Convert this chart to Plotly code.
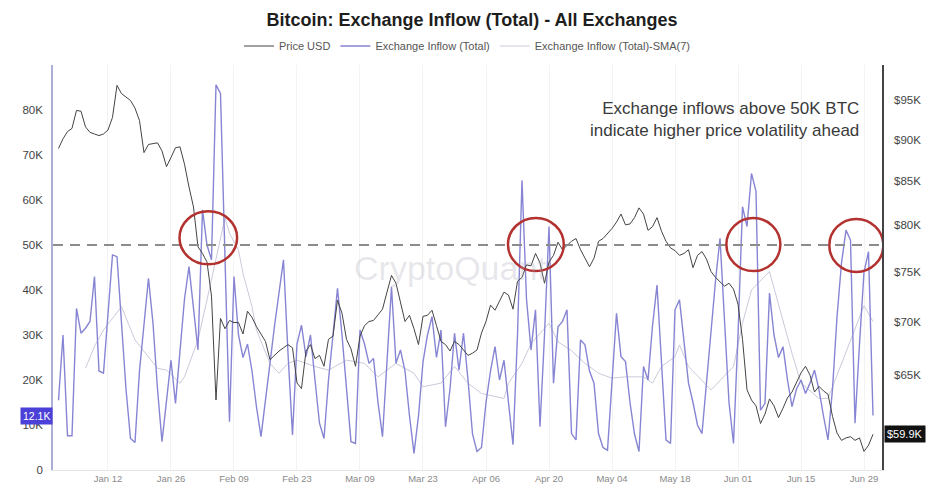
import math
import pandas as pd
import plotly.graph_objects as go

# ---------------- data ----------------
start_date = "2025-01-01"
n_days = 182

inflow_k = [
    15.5, 30.0, 7.6, 7.6, 35.9, 30.4, 31.5, 33.0, 43.0, 22.0,
    21.5, 35.0, 47.8, 47.4, 32.0, 18.0, 7.0, 6.1, 22.0, 33.0,
    42.6, 32.6, 18.0, 6.3, 15.0, 24.4, 14.8, 26.7, 38.0, 45.2,
    36.0, 26.7, 57.8, 50.0, 46.7, 85.6, 83.7, 47.0, 10.7, 43.0,
    30.0, 25.0, 28.0, 22.0, 14.0, 7.4, 15.0, 23.7, 32.0, 40.0,
    46.7, 26.0, 7.8, 28.0, 32.2, 25.2, 30.0, 20.0, 10.4, 7.0,
    20.0, 30.0, 40.4, 30.0, 18.0, 6.3, 5.9, 31.1, 28.0, 23.7,
    24.8, 15.0, 7.4, 25.0, 40.7, 23.7, 26.7, 22.0, 12.0, 3.7,
    12.0, 24.0, 30.0, 34.1, 25.0, 31.1, 9.6, 18.0, 30.4, 22.2,
    30.4, 20.0, 8.0, 4.1, 5.0, 15.0, 22.0, 27.4, 20.0, 24.4,
    15.0, 5.6, 30.0, 64.4, 38.0, 26.7, 35.6, 9.6, 30.0, 54.1,
    19.3, 31.8, 33.0, 35.6, 8.1, 6.7, 28.9, 27.8, 22.0, 19.3,
    8.1, 5.0, 4.4, 20.0, 34.8, 25.2, 24.1, 15.0, 8.0, 4.1,
    23.0, 20.0, 32.0, 41.1, 25.0, 6.7, 5.9, 35.6, 37.8, 28.0,
    19.3, 15.0, 10.0, 8.1, 20.0, 30.7, 42.0, 51.5, 32.0, 15.0,
    5.9, 30.0, 58.5, 54.1, 65.9, 61.9, 13.3, 14.8, 39.3, 30.0,
    25.0, 27.4, 20.0, 14.1, 18.0, 20.0, 17.0, 19.3, 22.2, 17.8,
    12.0, 6.7, 18.0, 34.0, 46.0, 53.3, 51.1, 10.4, 28.0, 44.0,
    48.5, 12.1,
]

price_k = [
    88.9, 90.1, 91.0, 91.4, 93.7, 93.6, 91.6, 90.9, 90.7, 90.5,
    90.7, 91.2, 92.8, 97.0, 95.9, 95.5, 95.0, 94.0, 92.4, 88.4,
    89.4, 89.5, 89.6, 88.6, 86.7, 87.8, 89.0, 89.1, 87.0, 84.3,
    82.0, 77.6, 76.9, 76.0, 72.5, 62.8, 70.3, 69.3, 70.1, 69.9,
    69.9, 68.8, 71.0, 70.4, 69.5, 68.8, 68.1, 66.4, 66.8, 67.2,
    67.5, 67.8, 67.5, 64.3, 63.8, 67.2, 67.8, 66.5, 66.8, 65.8,
    68.3, 68.6, 72.1, 70.8, 68.3, 67.4, 65.8, 68.6, 69.6, 70.0,
    70.1, 70.6, 71.2, 72.9, 74.6, 73.8, 72.0, 70.0, 70.6, 69.3,
    67.8, 70.5, 70.6, 71.1, 69.6, 68.1, 67.8, 67.2, 68.1, 67.8,
    67.3, 66.8, 67.0, 67.3, 68.9, 70.0, 71.6, 71.1, 72.0, 72.9,
    72.6, 71.2, 74.0, 74.4, 75.7, 75.6, 76.9, 75.9, 73.8, 76.0,
    76.7, 78.1, 77.3, 77.8, 78.2, 78.5, 77.3, 76.4, 75.5, 76.4,
    78.2, 78.5, 79.0, 79.6, 80.3, 81.2, 80.0, 80.1, 80.8, 81.9,
    81.2, 79.4, 79.8, 80.8, 79.3, 78.2, 77.5, 77.2, 76.7, 76.9,
    77.3, 75.4, 76.7, 77.1, 76.3, 75.0, 74.4, 73.9, 73.5, 73.8,
    73.2, 71.7, 68.3, 63.7, 62.8, 62.3, 60.8, 61.6, 62.9, 62.3,
    61.3, 62.1, 63.0, 63.5, 64.4, 65.2, 65.8, 65.0, 63.5, 64.0,
    63.6, 63.3, 61.4, 60.0, 59.4, 59.6, 59.7, 59.4, 59.6, 58.5,
    59.0, 59.9,
]

# SMA(7) read at its visible vertices: day number (1 = Jan 1) and value (K)
sma_day = [7, 9, 11, 15, 18, 21, 23, 25, 28, 29, 32, 34, 38, 39, 41, 42, 44, 45,
           48, 50, 52, 54, 58, 61, 65, 69, 72, 76, 80, 82, 86, 89, 92, 95, 98,
           100, 101, 104, 106, 110, 112, 115, 118, 121, 124, 127, 131, 133, 135,
           138, 139, 141, 146, 151, 153, 155, 159, 164, 166, 170, 172, 178, 180, 182]
sma_k = [22.6, 27.5, 31.1, 36.3, 28.9, 25.2, 22.6, 22.2, 19.3, 20.7, 28.9, 37.8, 56.0, 52.6, 48.9, 43.7, 36.3, 31.1,
         23.7, 21.5, 23.7, 24.4, 23.0, 22.2, 24.4, 23.7, 20.7, 23.7, 21.5, 18.5, 19.3, 23.0, 19.3, 17.0, 16.3,
         15.9, 19.3, 23.7, 28.1, 32.6, 28.5, 26.5, 23.7, 21.5, 20.4, 20.7, 20.7, 19.3, 23.0,
         25.2, 27.8, 23.0, 17.8, 23.0, 32.6, 40.0, 44.1, 25.9, 19.3, 15.9, 15.9, 31.1, 36.5, 33.0]

left_ticks = [0, 10000, 20000, 30000, 40000, 50000, 60000, 70000, 80000]
left_labels = ["0", "10K", "20K", "30K", "40K", "50K", "60K", "70K", "80K"]
right_ticks = [65000, 70000, 75000, 80000, 85000, 90000, 95000]
right_labels = ["$65K", "$70K", "$75K", "$80K", "$85K", "$90K", "$95K"]
x_ticks = pd.date_range("2025-01-12", "2025-06-29", freq="14D")

threshold = 50000
last_inflow_label = "12.1K"
last_price_label = "$59.9K"

# ---------------- build ----------------
dates = pd.date_range(start_date, periods=n_days, freq="D")
t0 = pd.Timestamp(start_date)
inflow = [v * 1000 for v in inflow_k]
price = [v * 1000 for v in price_k]
sma_dates = [t0 + pd.Timedelta(days=d - 1) for d in sma_day]
sma = [v * 1000 for v in sma_k]

fig = go.Figure()
fig.add_trace(go.Scatter(x=sma_dates, y=sma, mode="lines", name="Exchange Inflow (Total)-SMA(7)",
                         line=dict(color="#cacadc", width=1), legendrank=3, yaxis="y"))
fig.add_trace(go.Scatter(x=dates, y=inflow, mode="lines", name="Exchange Inflow (Total)",
                         line=dict(color="#8785d3", width=1.4), legendrank=2, yaxis="y"))
fig.add_trace(go.Scatter(x=dates, y=price, mode="lines", name="Price USD",
                         line=dict(color="#444444", width=1), legendrank=1, yaxis="y2"))

W, H = 944, 496
ml, mr, mt, mb = 53, 62, 65, 26
pw, ph = W - ml - mr, H - mt - mb


def px_x(x):
    return (x - ml) / pw


def px_y(y):
    return (H - mb - y) / ph


# dashed threshold
fig.add_shape(type="line", xref="paper", x0=0, x1=1, yref="y", y0=threshold, y1=threshold,
              line=dict(color="#8c8c8c", width=2, dash="10px,7px"), layer="above")

# red circles (center date, center value, half width in days, half height)
circles = [("2025-02-03 07:00", 51600, 6.4, 5900),
           ("2025-04-17 02:00", 50100, 6.2, 5900),
           ("2025-06-04 10:00", 50100, 6.0, 5900),
           ("2025-06-27 07:00", 49900, 6.0, 5900)]
for c, v, hw, hh in circles:
    ct = pd.Timestamp(c)
    fig.add_shape(type="circle", xref="x", yref="y",
                  x0=ct - pd.Timedelta(days=hw), x1=ct + pd.Timedelta(days=hw),
                  y0=v - hh, y1=v + hh, line=dict(color="#b3312e", width=2.5), layer="above")

annotations = [
    dict(text="CryptoQuant", xref="paper", yref="paper", x=px_x(450), y=px_y(268),
         showarrow=False, font=dict(size=34, color="rgba(170,170,185,0.28)", family="Liberation Sans")),
    dict(text="Exchange inflows above 50K BTC<br>indicate higher price volatility ahead",
         xref="paper", yref="paper", x=px_x(861), y=px_y(119.5), xanchor="right", yanchor="middle",
         align="right", showarrow=False, font=dict(size=17, color="#3a3a3a")),
    dict(text=last_inflow_label, xref="paper", yref="y", x=0, y=inflow[-1], xanchor="right",
         yanchor="middle", showarrow=False, bgcolor="#4b40d8", borderpad=2,
         font=dict(size=10.5, color="white")),
    dict(text=last_price_label, xref="paper", yref="y2", x=1, y=math.log10(price[-1]),
         xanchor="left", yanchor="middle", showarrow=False, bgcolor="#111111", borderpad=2, xshift=2,
         font=dict(size=11, color="white")),
]

fig.update_layout(
    width=W, height=H,
    margin=dict(l=ml, r=mr, t=mt, b=mb),
    paper_bgcolor="white", plot_bgcolor="white",
    font=dict(family="Liberation Sans, Arial, sans-serif", color="#444"),
    title=dict(text="<b>Bitcoin: Exchange Inflow (Total) - All Exchanges</b>", x=0.5, xanchor="center",
               y=1 - 20 / H, yanchor="middle", font=dict(size=18, color="#1e1e1e")),
    legend=dict(orientation="h", x=0.5, xanchor="center", y=px_y(46), yanchor="middle",
                font=dict(size=11, color="#555"), itemwidth=30, bgcolor="rgba(0,0,0,0)"),
    xaxis=dict(range=["2024-12-30 18:43", "2025-07-03 00:00"], tickvals=x_ticks, tickformat="%b %d",
               tickfont=dict(size=9.5, color="#8a8a8a"), showgrid=True, gridcolor="#f3f3f3",
               showline=True, linecolor="#e4e4e4", linewidth=1, ticks="", zeroline=False),
    yaxis=dict(range=[0, 90000], tickvals=left_ticks, ticktext=left_labels, showgrid=False,
               showline=True, linecolor="#aeaed8", linewidth=1.5, ticks="", zeroline=False,
               tickfont=dict(size=11.5, color="#444"), ticklabelstandoff=6),
    yaxis2=dict(type="log", overlaying="y", side="right", range=[4.756, 4.999], tickvals=right_ticks,
                ticktext=right_labels, showgrid=False, showline=True, linecolor="#444", linewidth=1.5,
                ticks="", zeroline=False, tickfont=dict(size=11.5, color="#444"), ticklabelstandoff=8),
    annotations=annotations,
)

fig.write_html("out.html")
